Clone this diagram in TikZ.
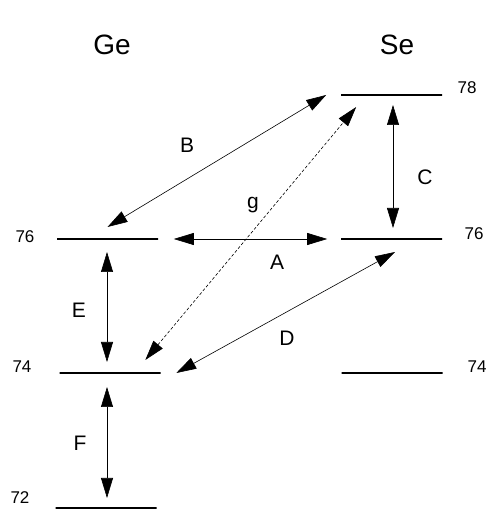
\documentclass[tikz,border=0pt]{standalone}
\usepackage{fontspec}
\setmainfont{Liberation Sans}
\usetikzlibrary{arrows.meta, positioning}
\tikzstyle{isolevel} = [draw, line width=1.6pt, minimum width=101pt, minimum height=0pt, inner sep=0pt]
\tikzstyle{arrow} = [{Triangle[length=20pt, width=12pt]}-{Triangle[length=20pt, width=12pt]}, line width=0.6pt]
\tikzstyle{elem} = [font=\fontsize{28}{30}\selectfont, inner sep=0pt]
\tikzstyle{mass} = [font=\fontsize{17}{19}\selectfont, inner sep=0pt]
\tikzstyle{tag} = [font=\fontsize{21}{23}\selectfont, inner sep=0pt]

\begin{document}
\begin{tikzpicture}[x=1pt, y=1pt]
    \useasboundingbox (0,0) rectangle (488,510);
    % element columns
    \node[elem] (ge) at (112,465) {Ge};
    \node[elem] (se) at (397,465) {Se};
    % levels
    \node[isolevel] (ge76) at (107.5,271) {};
    \node[isolevel] (ge74) at (110,137) {};
    \node[isolevel] (ge72) at (106,2) {};
    \node[isolevel] (se78) at (391.5,415) {};
    \node[isolevel] (se76) at (391.5,271) {};
    \node[isolevel] (se74) at (392,137) {};
    % mass numbers
    \node[mass] (m78) at (467,422) {78};
    \node[mass] (m76r) at (474,276) {76};
    \node[mass] (m74r) at (477,143) {74};
    \node[mass] (m76l) at (25,273) {76};
    \node[mass] (m74l) at (22,143) {74};
    \node[mass] (m72l) at (20,12) {72};
    % transitions
    \draw[arrow] ([xshift=15pt]ge76.east) -- ([xshift=-13pt]se76.west);
    \draw[arrow] ([yshift=12pt]ge76.center) -- ([xshift=-14pt]se78.west);
    \draw[arrow] ([xshift=1.5pt, yshift=-10pt]se78.center) -- ([xshift=1.5pt, yshift=11pt]se76.center);
    \draw[arrow] ([xshift=15pt]ge74.east) -- ([xshift=3.5pt, yshift=-13pt]se76.center);
    \draw[arrow] ([xshift=-0.5pt, yshift=-13pt]ge76.center) -- ([xshift=-3pt, yshift=11pt]ge74.center);
    \draw[arrow] ([xshift=-3pt, yshift=-14pt]ge74.center) -- ([xshift=1pt, yshift=10pt]ge72.center);
    \draw[arrow, dash pattern=on 3pt off 2pt] ([xshift=-16pt, yshift=13pt]ge74.east) -- ([xshift=16pt, yshift=-12pt]se78.west);
    % labels
    \node[tag] (lA) at (277,248) {A};
    \node[tag] (lB) at (187,365) {B};
    \node[tag] (lC) at (425,333) {C};
    \node[tag] (lD) at (287,172) {D};
    \node[tag] (lE) at (79,200) {E};
    \node[tag] (lF) at (80,67) {F};
    \node[tag] (lg) at (253,305) {g};
\end{tikzpicture}
\end{document}
